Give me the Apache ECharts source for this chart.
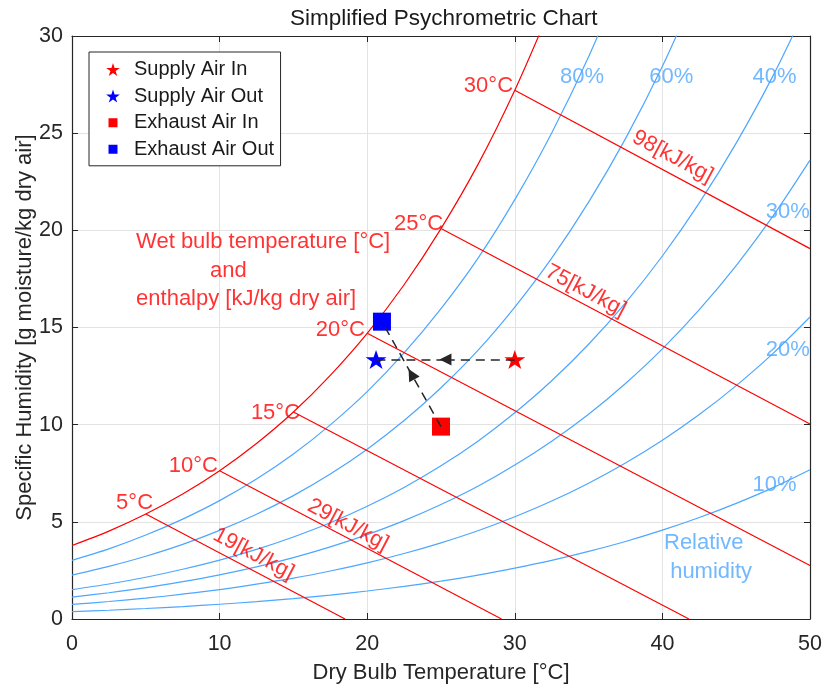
<!DOCTYPE html>
<html>
<head>
<meta charset="utf-8">
<title>Simplified Psychrometric Chart</title>
<script src="https://cdn.jsdelivr.net/npm/echarts@6/dist/echarts.min.js"></script>
<style>
  html, body { margin: 0; padding: 0; background: #fff; }
  #chart { width: 823px; height: 686px; }
</style>
</head>
<body>
<div id="chart"></div>
<script>
// Dry-bulb temperature grid [°C] shared by the relative-humidity curves
const dryBulb = [0, 2.5, 5, 7.5, 10, 12.5, 15, 17.5, 20, 22.5, 25, 27.5, 30, 32.5, 35, 37.5, 40, 42.5, 45, 47.5, 50];

// Specific humidity [g/kg] along each relative-humidity curve
const rh100 = [3.78, 4.52, 5.40, 6.43, 7.63, 9.03, 10.65, 12.54, 14.70, 17.20, 20.09, 23.38, 27.21, 31.58];
const rh80 = [3.02, 3.61, 4.32, 5.14, 6.09, 7.20, 8.49, 9.99, 11.70, 13.69, 15.97, 18.56, 21.58, 25.01, 28.93, 33.40];
const rh60 = [2.26, 2.71, 3.23, 3.84, 4.56, 5.39, 6.35, 7.46, 8.74, 10.21, 11.90, 13.82, 16.05, 18.57, 21.45, 24.72, 28.44, 32.67];
const rh40 = [1.51, 1.80, 2.15, 2.56, 3.03, 3.58, 4.22, 4.95, 5.80, 6.77, 7.88, 9.15, 10.61, 12.26, 14.14, 16.27, 18.68, 21.41, 24.49, 27.96, 31.89];
const rh30 = [1.13, 1.35, 1.61, 1.92, 2.27, 2.68, 3.16, 3.71, 4.34, 5.06, 5.89, 6.83, 7.92, 9.15, 10.54, 12.12, 13.90, 15.92, 18.19, 20.74, 23.61];
const rh20 = [0.75, 0.90, 1.07, 1.28, 1.51, 1.79, 2.10, 2.47, 2.89, 3.37, 3.92, 4.54, 5.26, 6.07, 6.99, 8.03, 9.20, 10.52, 12.01, 13.67, 15.54];
const rh10 = [0.38, 0.45, 0.54, 0.64, 0.76, 0.89, 1.05, 1.23, 1.44, 1.68, 1.95, 2.26, 2.62, 3.02, 3.48, 3.99, 4.57, 5.22, 5.95, 6.76, 7.68];

// Relative-humidity labels
const rhLabelText = ['80%', '60%', '40%', '30%', '20%', '10%', 'Relative', 'humidity'];
const rhLabelX = [34.55, 40.6, 47.6, 48.5, 48.5, 47.6, 42.8, 43.3];
const rhLabelY = [27.9, 27.9, 27.9, 20.95, 13.85, 6.9, 3.9, 2.43];

// Wet-bulb / constant-enthalpy lines: start on saturation, end at chart edge
const wetBulb = [5, 10, 15, 20, 25, 30];
const wetBulbSatW = [5.40, 7.63, 10.65, 14.70, 20.09, 27.21];
const enthalpyEndT = [18.5, 29.1, 41.8, 50, 50, 50];
const enthalpyEndW = [0, 0, 0, 2.75, 10.03, 19.06];

// Wet-bulb labels (right end of text, middle of text)
const wetBulbText = ['5°C', '10°C', '15°C', '20°C', '25°C', '30°C'];
const wetBulbLabelX = [5.49, 9.89, 15.45, 19.85, 25.14, 29.88];
const wetBulbLabelY = [5.97, 7.9, 10.62, 14.9, 20.33, 27.43];

// Enthalpy labels, each sitting along one of the lines above
const enthalpyLabelText = ['19[kJ/kg]', '29[kJ/kg]', '75[kJ/kg]', '98[kJ/kg]'];
const enthalpyLabelX = [12.3, 18.7, 34.8, 40.7];
const enthalpyLabelY = [3.35, 4.84, 16.89, 23.79];
const enthalpyLabelLine = [0, 1, 4, 5];

// Heading text for the red line family
const noteText = ['Wet bulb temperature [°C]', 'and', 'enthalpy [kJ/kg dry air]'];
const noteX = [4.34, 9.35, 4.34];
const noteY = [19.42, 17.92, 16.45];

// Air states of the heat-recovery unit
const stateNames = ['Supply Air In', 'Supply Air Out', 'Exhaust Air In', 'Exhaust Air Out'];
const stateT = [30, 20.6, 25, 21];
const stateW = [13.35, 13.35, 9.9, 15.3];

// Process paths: [from state, to state]
const processPaths = [[0, 1], [2, 3]];

const FONT = '"Liberation Sans", Arial, Helvetica, sans-serif';
const RED = '#ff0000';
const BLUE = '#4da6ff';
const AXIS = '#262626';
const STAR = 'path://M50,0L61.23,34.55L97.55,34.55L68.17,55.9L79.39,90.45L50,69.1L20.61,90.45L31.83,55.9L2.45,34.55L38.77,34.55Z';
const SQUARE = 'path://M0,0L10,0L10,10L0,10Z';

function zip(xs, ys) {
  return ys.map((y, i) => [xs[i], y]);
}

function curve(name, values, color) {
  return {
    name: name,
    type: 'line',
    data: zip(dryBulb, values),
    smooth: 0.3,
    showSymbol: false,
    symbol: 'none',
    silent: true,
    clip: true,
    z: 2,
    lineStyle: { color: color, width: 1.2 }
  };
}

function textSeries(id, xs, ys, texts, label) {
  return {
    id: id,
    type: 'scatter',
    silent: true,
    symbolSize: 0,
    z: 5,
    data: xs.map((x, i) => ({ value: [x, ys[i]], text: texts[i] })),
    label: Object.assign({
      show: true,
      fontFamily: FONT,
      fontSize: 22,
      formatter: p => p.data.text
    }, label),
    emphasis: { disabled: true }
  };
}

const stateColors = [RED, '#0000ff', RED, '#0000ff'];
const stateSymbols = [STAR, STAR, SQUARE, SQUARE];
const stateSizes = [[21, 20], [21, 20], 18, 18];

const stateSeries = stateNames.map((name, i) => ({
  name: name,
  type: 'scatter',
  data: [[stateT[i], stateW[i]]],
  symbol: stateSymbols[i],
  symbolSize: stateSizes[i],
  symbolKeepAspect: true,
  itemStyle: { color: stateColors[i], opacity: 1 },
  z: 6,
  silent: true
}));

// Dashed path with an arrowhead half-way along it
const pathLines = [];
const arrowLines = [];
processPaths.forEach(([a, b]) => {
  const mid = [(stateT[a] + stateT[b]) / 2, (stateW[a] + stateW[b]) / 2];
  arrowLines.push({ coords: [[stateT[a], stateW[a]], mid] });
  pathLines.push({ coords: [mid, [stateT[b], stateW[b]]] });
});

const option = {
  animation: false,
  backgroundColor: '#fff',
  textStyle: { fontFamily: FONT },
  title: {
    text: 'Simplified Psychrometric Chart',
    left: 290,
    top: 7,
    padding: 0,
    textStyle: { fontFamily: FONT, fontSize: 22.5, fontWeight: 'normal', color: '#1a1a1a' }
  },
  legend: {
    orient: 'vertical',
    left: 89,
    top: 52,
    padding: [7.5, 6.5, 6.5, 15.5],
    itemWidth: 32,
    itemHeight: 13,
    itemGap: 6.6,
    backgroundColor: '#fff',
    borderColor: AXIS,
    borderWidth: 1,
    borderRadius: 0,
    selectedMode: false,
    textStyle: { fontFamily: FONT, fontSize: 20, lineHeight: 20, color: '#1a1a1a' },
    data: [
      { name: stateNames[0] },
      { name: stateNames[1] },
      { name: stateNames[2], itemStyle: { borderColor: '#fff', borderWidth: 4 } },
      { name: stateNames[3], itemStyle: { borderColor: '#fff', borderWidth: 4 } }
    ]
  },
  grid: { left: 72, right: 13, top: 36, bottom: 67, containLabel: false, outerBoundsMode: 'none' },
  xAxis: [
    {
      type: 'value', min: 0, max: 50, interval: 10, position: 'bottom',
      name: 'Dry Bulb Temperature [°C]',
      nameLocation: 'middle', nameGap: 43, nameMoveOverlap: false,
      nameTextStyle: { fontFamily: FONT, fontSize: 22, color: AXIS },
      axisLine: { show: true, onZero: false, lineStyle: { color: AXIS, width: 1.2 } },
      axisTick: { show: true, inside: true, length: 6, lineStyle: { color: AXIS } },
      axisLabel: { fontFamily: FONT, fontSize: 21.5, color: AXIS, margin: 14 },
      splitLine: { show: true, lineStyle: { color: '#e3e3e3', width: 1 } }
    },
    {
      type: 'value', min: 0, max: 50, interval: 10, position: 'top',
      axisLine: { show: true, onZero: false, lineStyle: { color: AXIS, width: 1.2 } },
      axisTick: { show: true, inside: true, length: 6, lineStyle: { color: AXIS } },
      axisLabel: { show: false },
      splitLine: { show: false }
    }
  ],
  yAxis: [
    {
      type: 'value', min: 0, max: 30, interval: 5, position: 'left',
      name: 'Specific Humidity [g moisture/kg dry air]',
      nameLocation: 'middle', nameGap: 36, nameMoveOverlap: false,
      nameTextStyle: { fontFamily: FONT, fontSize: 22, color: AXIS },
      axisLine: { show: true, onZero: false, lineStyle: { color: AXIS, width: 1.2 } },
      axisTick: { show: true, inside: true, length: 6, lineStyle: { color: AXIS } },
      axisLabel: { fontFamily: FONT, fontSize: 21.5, color: AXIS, margin: 9 },
      splitLine: { show: true, lineStyle: { color: '#e3e3e3', width: 1 } }
    },
    {
      type: 'value', min: 0, max: 30, interval: 5, position: 'right',
      axisLine: { show: true, onZero: false, lineStyle: { color: AXIS, width: 1.2 } },
      axisTick: { show: true, inside: true, length: 6, lineStyle: { color: AXIS } },
      axisLabel: { show: false },
      splitLine: { show: false }
    }
  ],
  series: [
    curve('RH 10%', rh10, BLUE),
    curve('RH 20%', rh20, BLUE),
    curve('RH 30%', rh30, BLUE),
    curve('RH 40%', rh40, BLUE),
    curve('RH 60%', rh60, BLUE),
    curve('RH 80%', rh80, BLUE),
    curve('Saturation', rh100, RED),
    {
      name: 'Enthalpy lines',
      type: 'lines',
      coordinateSystem: 'cartesian2d',
      silent: true,
      z: 3,
      symbol: ['none', 'none'],
      lineStyle: { color: RED, width: 1.2, opacity: 1 },
      data: wetBulb.map((t, i) => ({ coords: [[t, wetBulbSatW[i]], [enthalpyEndT[i], enthalpyEndW[i]]] }))
    },
    textSeries('wetBulbLabels', wetBulbLabelX, wetBulbLabelY, wetBulbText,
      { position: 'inside', color: RED, align: 'right', verticalAlign: 'middle' }),
    textSeries('rhLabels', rhLabelX, rhLabelY, rhLabelText,
      { position: 'inside', color: BLUE, align: 'center', verticalAlign: 'middle' }),
    textSeries('enthalpyLabels', enthalpyLabelX, enthalpyLabelY, enthalpyLabelText,
      { position: 'inside', color: RED, align: 'center', verticalAlign: 'middle' }),
    textSeries('note', noteX, noteY, noteText,
      { position: 'inside', color: RED, align: 'left', verticalAlign: 'middle' }),
    ...stateSeries,
    {
      name: 'Process',
      type: 'lines',
      coordinateSystem: 'cartesian2d',
      silent: true,
      z: 8,
      symbol: ['none', 'none'],
      lineStyle: { color: AXIS, width: 1.5, type: [9, 6], opacity: 1 },
      data: pathLines
    },
    {
      name: 'Process arrows',
      type: 'lines',
      coordinateSystem: 'cartesian2d',
      silent: true,
      z: 8,
      symbol: ['none', 'triangle'],
      symbolSize: [9, 12],
      lineStyle: { color: AXIS, width: 1.5, type: [9, 6], opacity: 1 },
      data: arrowLines
    }
  ]
};

const chart = echarts.init(document.getElementById('chart'), null, { renderer: 'canvas' });
chart.setOption(option);

// Turn each enthalpy label so it runs along its line
const angles = enthalpyLabelLine.map(i => {
  const a = chart.convertToPixel({ seriesIndex: 0 }, [wetBulb[i], wetBulbSatW[i]]);
  const b = chart.convertToPixel({ seriesIndex: 0 }, [enthalpyEndT[i], enthalpyEndW[i]]);
  return -Math.atan2(b[1] - a[1], b[0] - a[0]) * 180 / Math.PI;
});
chart.setOption({
  series: [{
    id: 'enthalpyLabels',
    data: enthalpyLabelX.map((x, i) => ({
      value: [x, enthalpyLabelY[i]],
      text: enthalpyLabelText[i],
      label: { rotate: angles[i] }
    }))
  }]
});
</script>
</body>
</html>
